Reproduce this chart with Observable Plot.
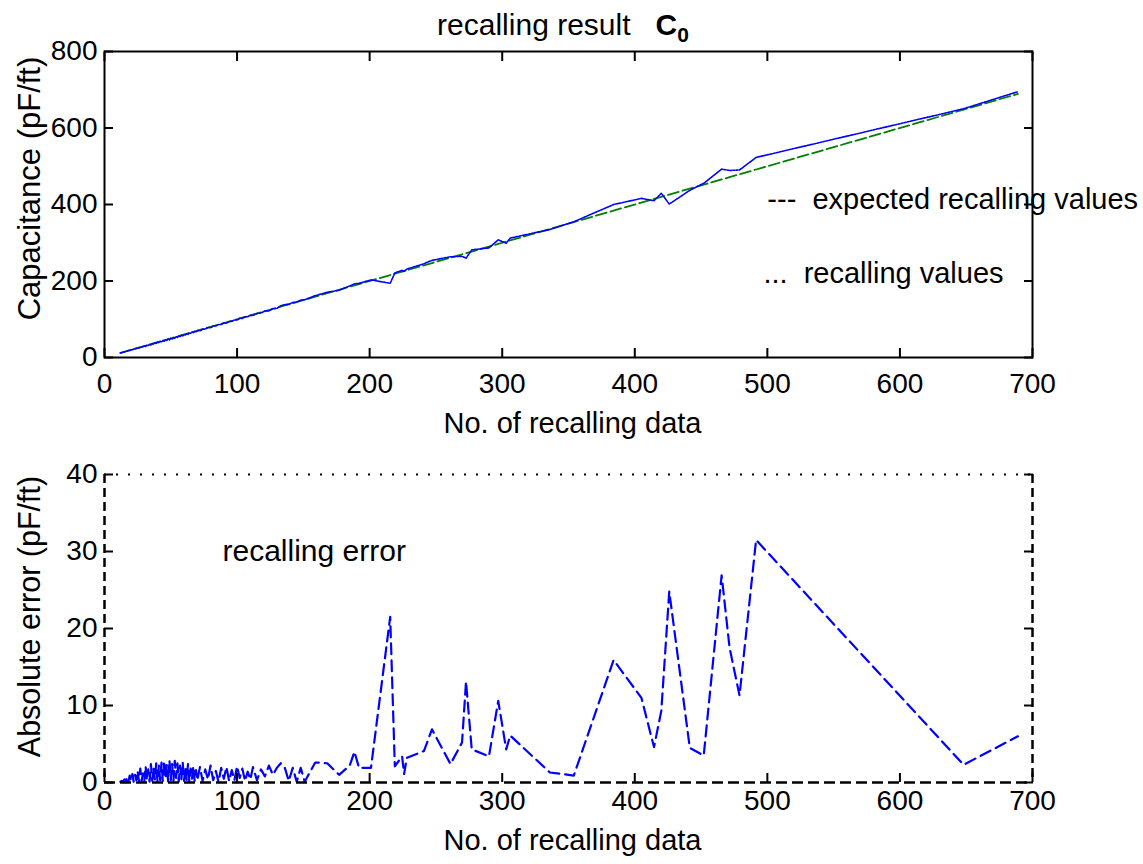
<!DOCTYPE html>
<html>
<head>
<meta charset="utf-8">
<script src="https://cdn.jsdelivr.net/npm/d3@7"></script>
<script src="https://cdn.jsdelivr.net/npm/@observablehq/plot@0.6"></script>
<style>
html,body{margin:0;padding:0;background:#fff;}
#wrap{position:relative;width:1143px;height:864px;overflow:hidden;background:#fff;font-family:"Liberation Sans",Arial,sans-serif;}
#title{position:absolute;left:0;top:10px;width:1126px;text-align:center;font-size:30px;line-height:29px;color:#000;white-space:pre;}
#title b{font-size:30px;}
#title sub{font-size:21px;vertical-align:-7px;line-height:0;}
#top,#bottom{position:absolute;left:0;}
#top{top:0;}
#bottom{top:440px;}
</style>
</head>
<body>
<div id="wrap">
<div id="top"></div>
<div id="bottom"></div>
<div id="title">recalling result   <b>C<sub>0</sub></b></div>
</div>
<script>
// ---- tick labels / domains ----
const xDomain = [0, 700];
const xTicks = [0, 100, 200, 300, 400, 500, 600, 700];
const capDomain = [0, 800];
const capTicks = [0, 200, 400, 600, 800];
const errDomain = [0, 40];
const errTicks = [0, 10, 20, 30, 40];

// ---- data ----
const dataNo = [
  12,13,14,15,16,17,18,19,20,21,22,23,24,25,26,27,28,29,30,31,32,33,34,35,36,37,38,39,40,41,
  42,43,44,45,46,47,48,49,50,51,52,53,54,55,56,57,58,59,60,61,62,63,64,65,66,67,68,69,70,
  72,74,76,78,80,82,84,86,88,90,92,94,96,98,100,102,104,106,108,110,112,115,118,121,124,127,130,133,136,139,142,145,148,151,
  159,168,177,185,188.5,192,201,215.5,219,224.5,226,228,241,247,261,269.7,272.7,277,290,297,303,306,336,354,
  384,405,414.5,420,426,441.5,452,465.5,471.5,479,491.5,648,689
];
const expected = [
  12,13,14,15,16,17,18,19,20,21,22,23,24,25,26,27,28,29,30,31,32,33,34,35,36,37,38,39,40,41,
  42,43,44,45,46,47,48,49,50,51,52,53,54,55,56,57,58,59,60,61,62,63,64,65,66,67,68,69,70,
  72,74,76,78,80,82,84,86,88,90,92,94,96,98,100,102,104,106,108,110,112,115,118,121,124,127,130,133,136,139,142,145,148,151,
  159,168,177,185,188.5,192,201,215.5,219,224.5,226,228,241,247,261,269.7,272.7,277,290,297,303,306,336,354,
  384,405,414.5,420,426,441.5,452,465.5,471.5,479,491.5,648,689
];
const recalled = [
  12.1,12.8,14.1,14.6,16.1,16.3,18.1,18.1,20.2,19.9,22.1,22.0,24.3,23.5,26.1,25.2,28.2,27.8,30.1,28.9,
  32.3,31.3,34.1,32.6,36.2,35.1,38.4,36.5,40.1,38.8,42.3,40.4,44.2,42.2,46.5,44.7,48.1,46.1,50.3,48.6,
  52.2,50.2,54.6,52.5,56.1,54.8,58.4,56.4,60.2,59.0,62.3,60.6,64.1,63.2,66.5,64.9,68.2,67.4,70.3,
  70.0,74.2,74.3,78.4,77.8,82.3,82.5,86.1,86.1,90.5,90.0,94.2,94.4,98.3,97.9,102.6,102.2,106.2,106.6,110.4,
  110.0,115.3,116.3,121.8,121.8,128.0,128.1,135.5,137.9,139.2,143.9,145.1,149.9,151.1,
  161.6,170.5,176.0,187.2,192.5,193.9,202.9,194.0,221.1,227.9,224.9,231.2,245.1,253.9,263.4,264.5,259.6,
  281.3,286.6,307.6,298.7,312.1,334.7,354.9,
  399.9,416.0,409.9,429.3,401.2,437.0,455.5,492.4,489.0,490.3,523.0,650.3,695.0
];
const absError = [
  0.1,0.2,0.1,0.4,0.1,0.7,0.1,0.9,0.2,1.1,0.1,1.0,0.3,1.5,0.1,1.8,0.2,1.2,0.1,2.1,
  0.3,1.7,0.1,2.4,0.2,1.9,0.4,2.5,0.1,2.2,0.3,2.6,0.2,2.8,0.5,2.3,0.1,2.9,0.3,2.4,
  0.2,2.8,0.6,2.5,0.1,2.2,0.4,2.6,0.2,2.0,0.3,2.4,0.1,1.8,0.5,2.1,0.2,1.6,0.3,
  2.0,0.2,1.7,0.4,2.2,0.3,1.5,0.1,1.9,0.5,2.0,0.2,1.6,0.3,2.1,0.6,1.8,0.2,1.4,0.4,
  2.0,0.3,1.7,0.8,2.2,1.0,1.9,2.5,1.9,0.2,1.9,0.1,1.9,0.1,
  2.6,2.5,1.0,2.2,4.0,1.9,1.9,21.5,2.1,3.4,1.1,3.2,4.1,6.9,2.4,5.2,13.1,
  4.3,3.4,10.6,4.3,6.1,1.3,0.9,
  15.9,11.0,4.6,9.3,24.8,4.5,3.5,26.9,17.5,11.3,31.5,2.3,6.0
];
const legendTexts = ["---\u00a0\u00a0expected recalling values", "...\u00a0\u00a0recalling values"];
const errNote = ["recalling error"];

const topRows = dataNo.map((n, i) => ({n, expected: expected[i], recalled: recalled[i]}));
const errRows = dataNo.map((n, i) => ({n, err: absError[i]}));

const FONT = "'Liberation Sans', Arial, sans-serif";
const baseStyle = {fontFamily: FONT, fontSize: "28px", color: "black", background: "transparent", overflow: "visible"};

const topPlot = Plot.plot({
  width: 1143, height: 440,
  marginTop: 51, marginLeft: 104, marginRight: 111, marginBottom: 83,
  x: {domain: xDomain, label: null},
  y: {domain: capDomain, label: null},
  style: baseStyle,
  marks: [
    Plot.line(topRows, {x: "n", y: "expected", stroke: "#008000", strokeWidth: 1.8, strokeDasharray: "11,4"}),
    Plot.line(topRows, {x: "n", y: "recalled", stroke: "#0000ff", strokeWidth: 1.6, strokeDasharray: "2,1.2"}),
    Plot.text([legendTexts[0]], {x: 500, y: 413, text: d => d, textAnchor: "start", lineAnchor: "middle", fontSize: 29, fill: "black"}),
    Plot.text([legendTexts[1]], {x: 497, y: 220, text: d => d, textAnchor: "start", lineAnchor: "middle", fontSize: 29, fill: "black"}),
    Plot.frame({stroke: "black", strokeWidth: 2}),
    Plot.axisX(xTicks, {anchor: "bottom", tickSize: 0, tickPadding: 16, fontSize: 28, label: null}),
    Plot.axisX(xTicks, {anchor: "bottom", tickSize: -9, strokeWidth: 2, fill: "none", label: null}),
    Plot.axisX(xTicks, {anchor: "top", tickSize: -9, strokeWidth: 2, fill: "none", label: null}),
    Plot.axisY(capTicks, {anchor: "left", tickSize: 0, tickPadding: 7, fontSize: 28, label: null}),
    Plot.axisY(capTicks, {anchor: "left", tickSize: -9, strokeWidth: 2, fill: "none", label: null}),
    Plot.axisY(capTicks, {anchor: "right", tickSize: -9, strokeWidth: 2, fill: "none", label: null}),
    Plot.text(["No. of recalling data"], {frameAnchor: "bottom", dx: 4, dy: 66, textAnchor: "middle", lineAnchor: "middle", fontSize: 29, fill: "black"}),
    Plot.text(["Capacitance (pF/ft)"], {frameAnchor: "left", dx: -74, dy: -16, rotate: -90, textAnchor: "middle", lineAnchor: "middle", fontSize: 31, fill: "black"})
  ]
});
document.getElementById("top").appendChild(topPlot);

const bottomPlot = Plot.plot({
  width: 1143, height: 424,
  marginTop: 34, marginLeft: 104, marginRight: 111, marginBottom: 82,
  x: {domain: xDomain, label: null},
  y: {domain: errDomain, label: null},
  style: baseStyle,
  marks: [
    Plot.line(errRows, {x: "n", y: "err", stroke: "#0000ff", strokeWidth: 2.2, strokeDasharray: "11,6"}),
    Plot.text(errNote, {x: 89, y: 30, text: d => d, textAnchor: "start", lineAnchor: "middle", fontSize: 30, fill: "black"}),
    Plot.ruleY([errDomain[1]], {stroke: "black", strokeWidth: 2, strokeDasharray: "2,10"}),
    Plot.ruleY([errDomain[0]], {stroke: "black", strokeWidth: 2.5, strokeDasharray: "11,5"}),
    Plot.ruleX([xDomain[0]], {stroke: "black", strokeWidth: 2.5, strokeDasharray: "9,5"}),
    Plot.ruleX([xDomain[1]], {stroke: "black", strokeWidth: 2.5, strokeDasharray: "9,5"}),
    Plot.axisX(xTicks, {anchor: "bottom", tickSize: 0, tickPadding: 8, fontSize: 28, label: null}),
    Plot.axisX(xTicks, {anchor: "bottom", tickSize: -9, strokeWidth: 2, fill: "none", label: null}),
    Plot.axisY(errTicks, {anchor: "left", tickSize: 0, tickPadding: 7, fontSize: 28, label: null}),
    Plot.axisY(errTicks, {anchor: "left", tickSize: -9, strokeWidth: 2, fill: "none", label: null}),
    Plot.axisY(errTicks, {anchor: "right", tickSize: -9, strokeWidth: 2, fill: "none", label: null}),
    Plot.text(["No. of recalling data"], {frameAnchor: "bottom", dx: 4, dy: 58, textAnchor: "middle", lineAnchor: "middle", fontSize: 29, fill: "black"}),
    Plot.text(["Absolute error (pF/ft)"], {frameAnchor: "left", dx: -74, dy: -12, rotate: -90, textAnchor: "middle", lineAnchor: "middle", fontSize: 30.5, fill: "black"})
  ]
});
document.getElementById("bottom").appendChild(bottomPlot);
</script>
</body>
</html>
